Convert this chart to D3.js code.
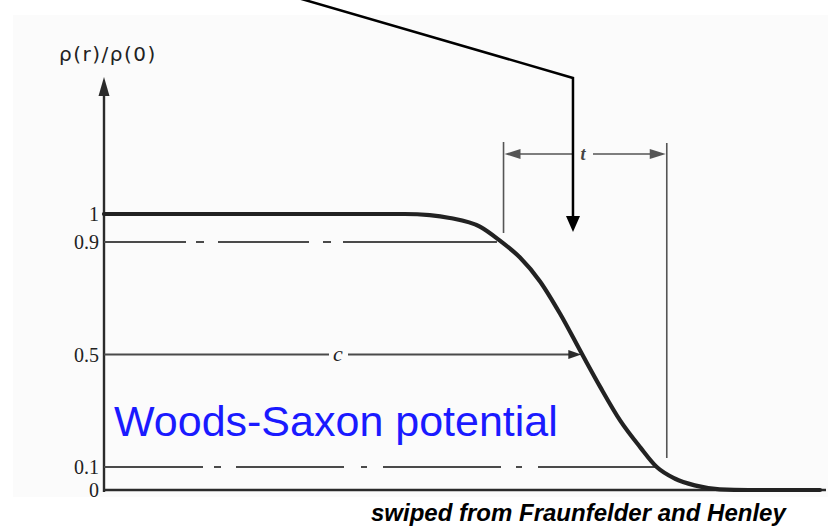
<!DOCTYPE html>
<html>
<head>
<meta charset="utf-8">
<script src="https://cdn.jsdelivr.net/npm/d3@7"></script>
<style>
  html, body { margin: 0; padding: 0; background: #ffffff; }
  svg { display: block; }
</style>
</head>
<body>
<svg id="chart" width="836" height="527"></svg>
<script>
// Nuclear charge density profile, rho(r)/rho(0), traced points
const radius  = [0, 4.2, 4.55, 4.83, 5.25, 5.53, 5.81, 6.09, 6.37, 6.68, 6.93, 7.21, 7.49, 7.72, 7.97, 8.25, 8.6, 9.0, 10];
const density = [1, 1, 0.996, 0.986, 0.955, 0.905, 0.845, 0.76, 0.645, 0.5, 0.385, 0.265, 0.17, 0.1, 0.05, 0.02, 0.003, 0, 0];

// Vertical-axis ticks
const tickValues = [0, 0.1, 0.5, 0.9, 1];
const tickLabels = ["0", "0.1", "0.5", "0.9", "1"];

// Reference levels and where they meet the curve
const halfRadius = 6.68;          // c : half-density radius
const innerRadius = 5.53;         // where rho = 0.9
const outerRadius = 7.72;         // where rho = 0.1
const skinBracket = [5.58, 7.86]; // t : skin thickness bracket
const axisTop = 1.484;

// Pointer drawn over the figure: start, corner, tip (r, rho)
const pointer = [[2.70, 1.762], [6.55, axisTop], [6.55, 0.936]];

const svg = d3.select("#chart");

const x = d3.scaleLinear().domain([0, 10]).range([104, 820]);
const y = d3.scaleLinear().domain([0, 0.1, 1]).range([490, 467, 214]);

const ink = "#2b2b2b";
const grey = "#4a4a4a";

// scanned-page tint
svg.append("rect")
  .attr("x", 13).attr("y", 15).attr("width", 815).attr("height", 482)
  .attr("fill", "#fbfbfb");

// vertical axis with arrow
svg.append("line")
  .attr("x1", x(0)).attr("x2", x(0))
  .attr("y1", y(0) + 2).attr("y2", y(axisTop) + 10)
  .attr("stroke", ink).attr("stroke-width", 2.4);
svg.append("path")
  .attr("d", `M${x(0)},${y(axisTop) - 1} L${x(0) - 5.5},${y(axisTop) + 18} L${x(0) + 5.5},${y(axisTop) + 18} Z`)
  .attr("fill", ink);

// axis label
svg.append("text")
  .attr("x", x(0) + 4).attr("y", 61)
  .attr("text-anchor", "middle")
  .attr("font-family", "DejaVu Sans, sans-serif")
  .attr("font-size", 20)
  .attr("letter-spacing", 1.5)
  .attr("fill", "#222")
  .text("ρ(r)/ρ(0)");

// tick labels
const yAxis = d3.axisLeft(y)
  .tickValues(tickValues)
  .tickSize(0)
  .tickPadding(5)
  .tickFormat((d, i) => tickLabels[i]);
const gAxis = svg.append("g")
  .attr("transform", `translate(${x(0)},0)`)
  .call(yAxis);
gAxis.select(".domain").remove();
gAxis.selectAll("text")
  .attr("font-family", "Liberation Serif, serif")
  .attr("font-size", 20)
  .attr("fill", "#222")
  .attr("dy", "0.34em");

// baseline
svg.append("line")
  .attr("x1", x(0)).attr("x2", 826)
  .attr("y1", y(0)).attr("y2", y(0))
  .attr("stroke", ink).attr("stroke-width", 2.4);

// dash-dot reference lines at 0.9 and 0.1
svg.append("line")
  .attr("x1", x(0)).attr("x2", x(innerRadius) - 3)
  .attr("y1", y(0.9)).attr("y2", y(0.9))
  .attr("stroke", grey).attr("stroke-width", 2)
  .attr("stroke-dasharray", "82 10 8 14 91 14 8 12 400");
svg.append("line")
  .attr("x1", x(0)).attr("x2", x(outerRadius))
  .attr("y1", y(0.1)).attr("y2", y(0.1))
  .attr("stroke", grey).attr("stroke-width", 2)
  .attr("stroke-dasharray", "99 11 7 15 108 17 6 16 118 15 6 16 200");

// c arrow at half density
const cLabelX = 338;
svg.append("line")
  .attr("x1", x(0)).attr("x2", cLabelX - 9)
  .attr("y1", y(0.5)).attr("y2", y(0.5))
  .attr("stroke", grey).attr("stroke-width", 2);
svg.append("line")
  .attr("x1", cLabelX + 10).attr("x2", x(halfRadius) - 10)
  .attr("y1", y(0.5)).attr("y2", y(0.5))
  .attr("stroke", grey).attr("stroke-width", 2);
svg.append("path")
  .attr("d", `M${x(halfRadius) - 1},${y(0.5)} L${x(halfRadius) - 14},${y(0.5) - 4.5} L${x(halfRadius) - 14},${y(0.5) + 4.5} Z`)
  .attr("fill", ink);
svg.append("text")
  .attr("x", cLabelX).attr("y", y(0.5) + 6)
  .attr("text-anchor", "middle")
  .attr("font-family", "Liberation Serif, serif")
  .attr("font-style", "italic")
  .attr("font-size", 22)
  .attr("fill", "#222")
  .text("c");

// t bracket
const tY = 154;
const tLabelX = 583;
svg.append("line")
  .attr("x1", x(skinBracket[0])).attr("x2", x(skinBracket[0]))
  .attr("y1", 142).attr("y2", 233)
  .attr("stroke", "#555").attr("stroke-width", 1.6);
svg.append("line")
  .attr("x1", x(skinBracket[1])).attr("x2", x(skinBracket[1]))
  .attr("y1", 143).attr("y2", 458)
  .attr("stroke", "#555").attr("stroke-width", 1.6);
svg.append("line")
  .attr("x1", x(skinBracket[0]) + 10).attr("x2", tLabelX - 10)
  .attr("y1", tY).attr("y2", tY)
  .attr("stroke", "#555").attr("stroke-width", 1.6);
svg.append("line")
  .attr("x1", tLabelX + 10).attr("x2", x(skinBracket[1]) - 10)
  .attr("y1", tY).attr("y2", tY)
  .attr("stroke", "#555").attr("stroke-width", 1.6);
svg.append("path")
  .attr("d", `M${x(skinBracket[0]) + 1},${tY} L${x(skinBracket[0]) + 17},${tY - 5} L${x(skinBracket[0]) + 17},${tY + 5} Z`)
  .attr("fill", "#555");
svg.append("path")
  .attr("d", `M${x(skinBracket[1]) - 1},${tY} L${x(skinBracket[1]) - 17},${tY - 5} L${x(skinBracket[1]) - 17},${tY + 5} Z`)
  .attr("fill", "#555");
svg.append("text")
  .attr("x", tLabelX).attr("y", tY + 6)
  .attr("text-anchor", "middle")
  .attr("font-family", "Liberation Serif, serif")
  .attr("font-style", "italic")
  .attr("font-weight", "bold")
  .attr("font-size", 18)
  .attr("fill", "#444")
  .text("t");

// density curve
const line = d3.line()
  .x((d, i) => x(radius[i]))
  .y((d, i) => y(density[i]))
  .curve(d3.curveMonotoneX);
svg.append("path")
  .datum(radius)
  .attr("d", line)
  .attr("fill", "none")
  .attr("stroke", "#222")
  .attr("stroke-width", 4.2)
  .attr("stroke-linecap", "round");

// pointer line with arrow head
const px = pointer.map(p => [x(p[0]), y(p[1])]);
svg.append("path")
  .attr("d", `M${px[0][0]},${px[0][1] - 2} L${px[1][0]},${px[1][1]} L${px[2][0]},${px[2][1] - 12}`)
  .attr("fill", "none")
  .attr("stroke", "#000")
  .attr("stroke-width", 2.5)
  .attr("stroke-linejoin", "miter");
svg.append("path")
  .attr("d", `M${px[2][0]},${px[2][1]} L${px[2][0] - 7},${px[2][1] - 16} L${px[2][0] + 7},${px[2][1] - 16} Z`)
  .attr("fill", "#000");

// title
svg.append("text")
  .attr("x", 114).attr("y", 436)
  .attr("font-family", "Liberation Sans, Arial, sans-serif")
  .attr("font-size", 43)
  .attr("fill", "#1a1aff")
  .text("Woods-Saxon potential");

// source credit
svg.append("text")
  .attr("x", 371).attr("y", 521)
  .attr("font-family", "Liberation Sans, Arial, sans-serif")
  .attr("font-weight", "bold")
  .attr("font-style", "italic")
  .attr("font-size", 24)
  .attr("fill", "#000")
  .text("swiped from Fraunfelder and Henley");
</script>
</body>
</html>
